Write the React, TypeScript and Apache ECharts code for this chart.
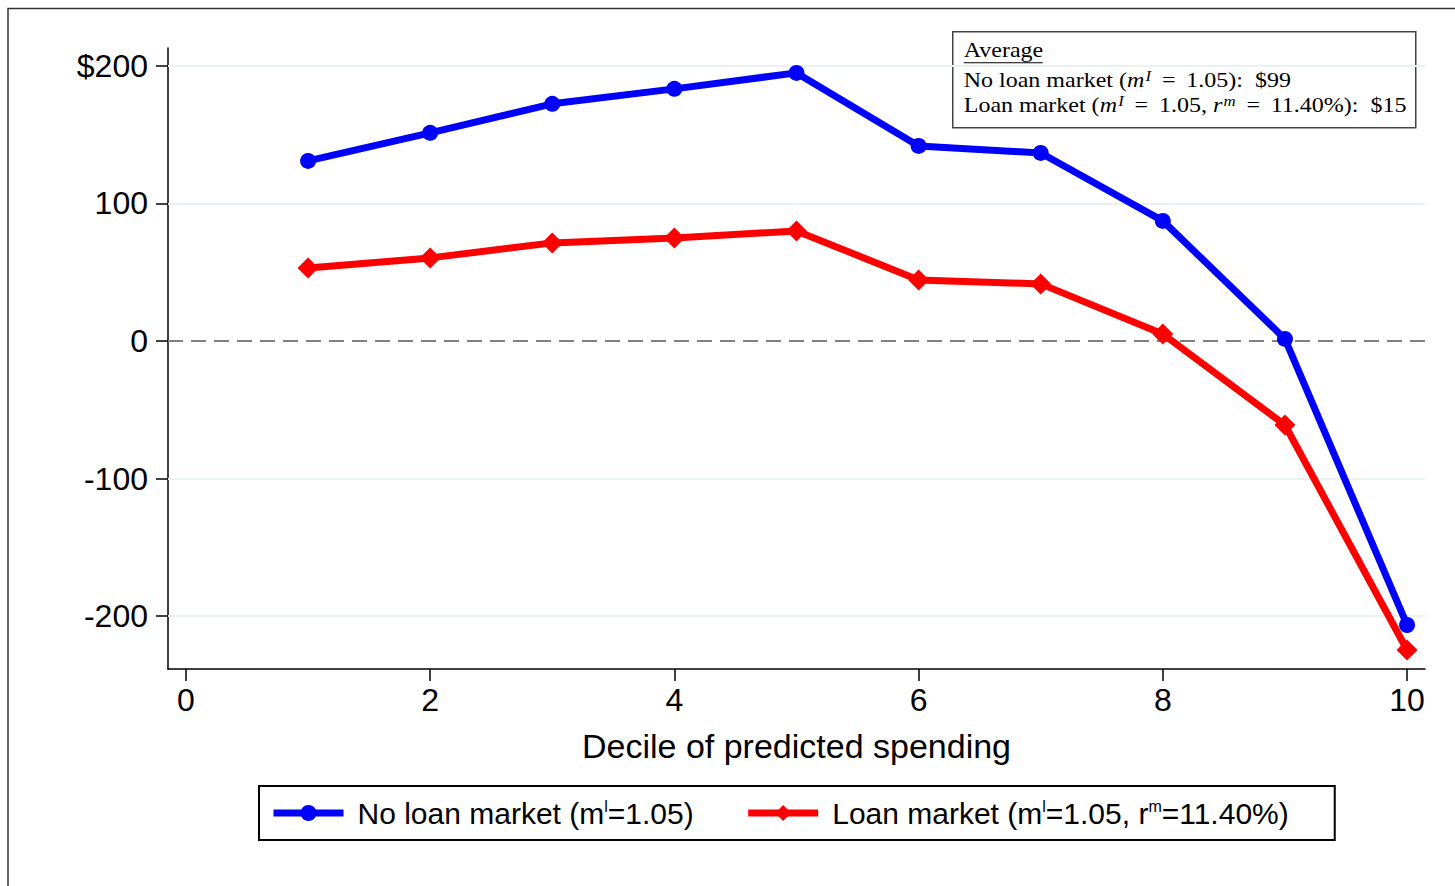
import React, { useEffect, useRef } from "react";
import * as echarts from "echarts";

const deciles = [1, 2, 3, 4, 5, 6, 7, 8, 9, 10];
const noLoan = [130.9, 151.3, 172.4, 183.3, 194.9, 141.8, 136.7, 87.3, 1.5, -206.5];
const loan = [53.1, 60.4, 71.3, 74.9, 80.0, 44.4, 41.5, 5.1, -61.1, -224.7];
const xTicks = [0, 2, 4, 6, 8, 10];
const yTicks = [-200, -100, 0, 100, 200];
const gridValues = [200, 100, -100, -200];
const seriesNames = ["No loan market", "Loan market"];

export default function App() {
  const ref = useRef<HTMLDivElement>(null);
  useEffect(() => {
    if (!ref.current) return;
    const chart = echarts.init(ref.current, undefined, { renderer: "svg" });
    const sans = "Liberation Sans, Arial, sans-serif";
    const serif = "Liberation Serif, Times New Roman, serif";
    const serifRich = {
      n: { fontFamily: serif, fontSize: 20, color: "#000" },
      i: { fontFamily: serif, fontSize: 20, fontStyle: "italic", color: "#000" },
      s: { fontFamily: serif, fontSize: 14, fontStyle: "italic", color: "#000", verticalAlign: "top", padding: [0, 0, 8, 1] },
      e: { fontFamily: serif, fontSize: 20, color: "#000", padding: [0, 9, 0, 9] },
    };
    chart.setOption({
      animation: false,
      backgroundColor: "#fff",
      grid: { left: 168, top: 48, right: 30, bottom: 217, containLabel: false },
      xAxis: {
        type: "value",
        min: -0.147,
        max: 10.147,
        name: "Decile of predicted spending",
        nameLocation: "middle",
        nameGap: 60,
        nameTextStyle: { fontSize: 34, fontFamily: sans, color: "#000" },
        axisLine: { show: true, onZero: false, lineStyle: { color: "#000", width: 1.5 } },
        axisTick: { show: true, length: 12, customValues: xTicks, lineStyle: { color: "#000", width: 1.5 } },
        axisLabel: { customValues: xTicks, fontSize: 32, fontFamily: sans, color: "#000", margin: 15 },
        splitLine: { show: false },
      },
      yAxis: {
        type: "value",
        min: -238.5,
        max: 213,
        axisLine: { show: true, onZero: false, lineStyle: { color: "#000", width: 1.5 } },
        axisTick: { show: true, length: 12, customValues: yTicks, lineStyle: { color: "#000", width: 1.5 } },
        axisLabel: {
          customValues: yTicks,
          fontSize: 32,
          fontFamily: sans,
          color: "#000",
          margin: 20,
          formatter: (v: number) => (v === 200 ? "$200" : String(v)),
        },
        splitLine: { show: false },
      },
      legend: {
        data: seriesNames,
        left: 259,
        top: 786,
        orient: "horizontal",
        borderColor: "#000",
        borderWidth: 2,
        padding: [12, 46, 12, 11],
        itemWidth: 70,
        itemHeight: 20,
        itemGap: 51,
        lineStyle: { width: 7 },
        textStyle: {
          fontSize: 30,
          fontFamily: sans,
          color: "#000",
          padding: [0, 0, 0, 9],
          rich: {
            a: { fontSize: 30, fontFamily: sans, color: "#000" },
            s: { fontSize: 16, fontFamily: sans, color: "#000", verticalAlign: "top", padding: [0, 0, 14, 0] },
          },
        },
        formatter: (name: string) =>
          name === "No loan market"
            ? "{a|No loan market (m}{s|l}{a|=1.05)}"
            : "{a|Loan market (m}{s|l}{a|=1.05, r}{s|m}{a|=11.40%)}",
      },
      series: [
        {
          type: "line",
          name: "_grid",
          data: [],
          z: 1,
          silent: true,
          markLine: {
            z: 1,
            silent: true,
            symbol: "none",
            label: { show: false },
            data: [
              ...gridValues.map((v) => ({ yAxis: v, lineStyle: { color: "#e9f1f3", width: 2, type: "solid" } })),
              { yAxis: 0, lineStyle: { color: "#808080", width: 2, type: [15, 8] } },
            ],
          },
        },
        {
          type: "line",
          name: seriesNames[0],
          data: deciles.map((d, i) => [d, noLoan[i]]),
          z: 3,
          color: "#0000ff",
          lineStyle: { color: "#0000ff", width: 7 },
          itemStyle: { color: "#0000ff" },
          symbol: "circle",
          symbolSize: 16,
        },
        {
          type: "line",
          name: seriesNames[1],
          data: deciles.map((d, i) => [d, loan[i]]),
          z: 3,
          color: "#ff0000",
          lineStyle: { color: "#ff0000", width: 7 },
          itemStyle: { color: "#ff0000" },
          symbol: "diamond",
          symbolSize: 21,
        },
      ],
      graphic: [
        {
          type: "polyline",
          shape: { points: [[8, 886], [8, 8.5], [1455, 8.5]] },
          style: { stroke: "#333", lineWidth: 1.5, fill: null },
          silent: true,
        },
        {
          type: "group",
          left: 952,
          top: 31,
          children: [
            {
              type: "rect",
              shape: { x: 0, y: 0, width: 463, height: 96 },
              style: { fill: "#fff", stroke: "#444", lineWidth: 1.5 },
            },
            {
              type: "text",
              x: 11,
              y: 18,
              scaleX: 1.2,
              style: { text: "Average", font: "20px " + serif, fill: "#000", verticalAlign: "middle" },
            },
            {
              type: "line",
              shape: { x1: 11, y1: 31, x2: 90, y2: 31 },
              style: { stroke: "#000", lineWidth: 1 },
            },
            {
              type: "text",
              x: 11,
              y: 48,
              scaleX: 1.2,
              style: {
                text: "{n|No loan market (}{i|m}{s|I}{e|=}{n|1.05):  $99}",
                rich: serifRich,
                verticalAlign: "middle",
              },
            },
            {
              type: "text",
              x: 11,
              y: 73,
              scaleX: 1.2,
              style: {
                text: "{n|Loan market (}{i|m}{s|I}{e|=}{n|1.05, }{i|r}{s|m}{e|=}{n|11.40%):  $15}",
                rich: serifRich,
                verticalAlign: "middle",
              },
            },
          ],
        },
      ],
    });
    return () => chart.dispose();
  }, []);
  return (
    <div
      ref={ref}
      style={{ position: "fixed", left: 0, top: 0, width: 1455, height: 886 }}
    />
  );
}
